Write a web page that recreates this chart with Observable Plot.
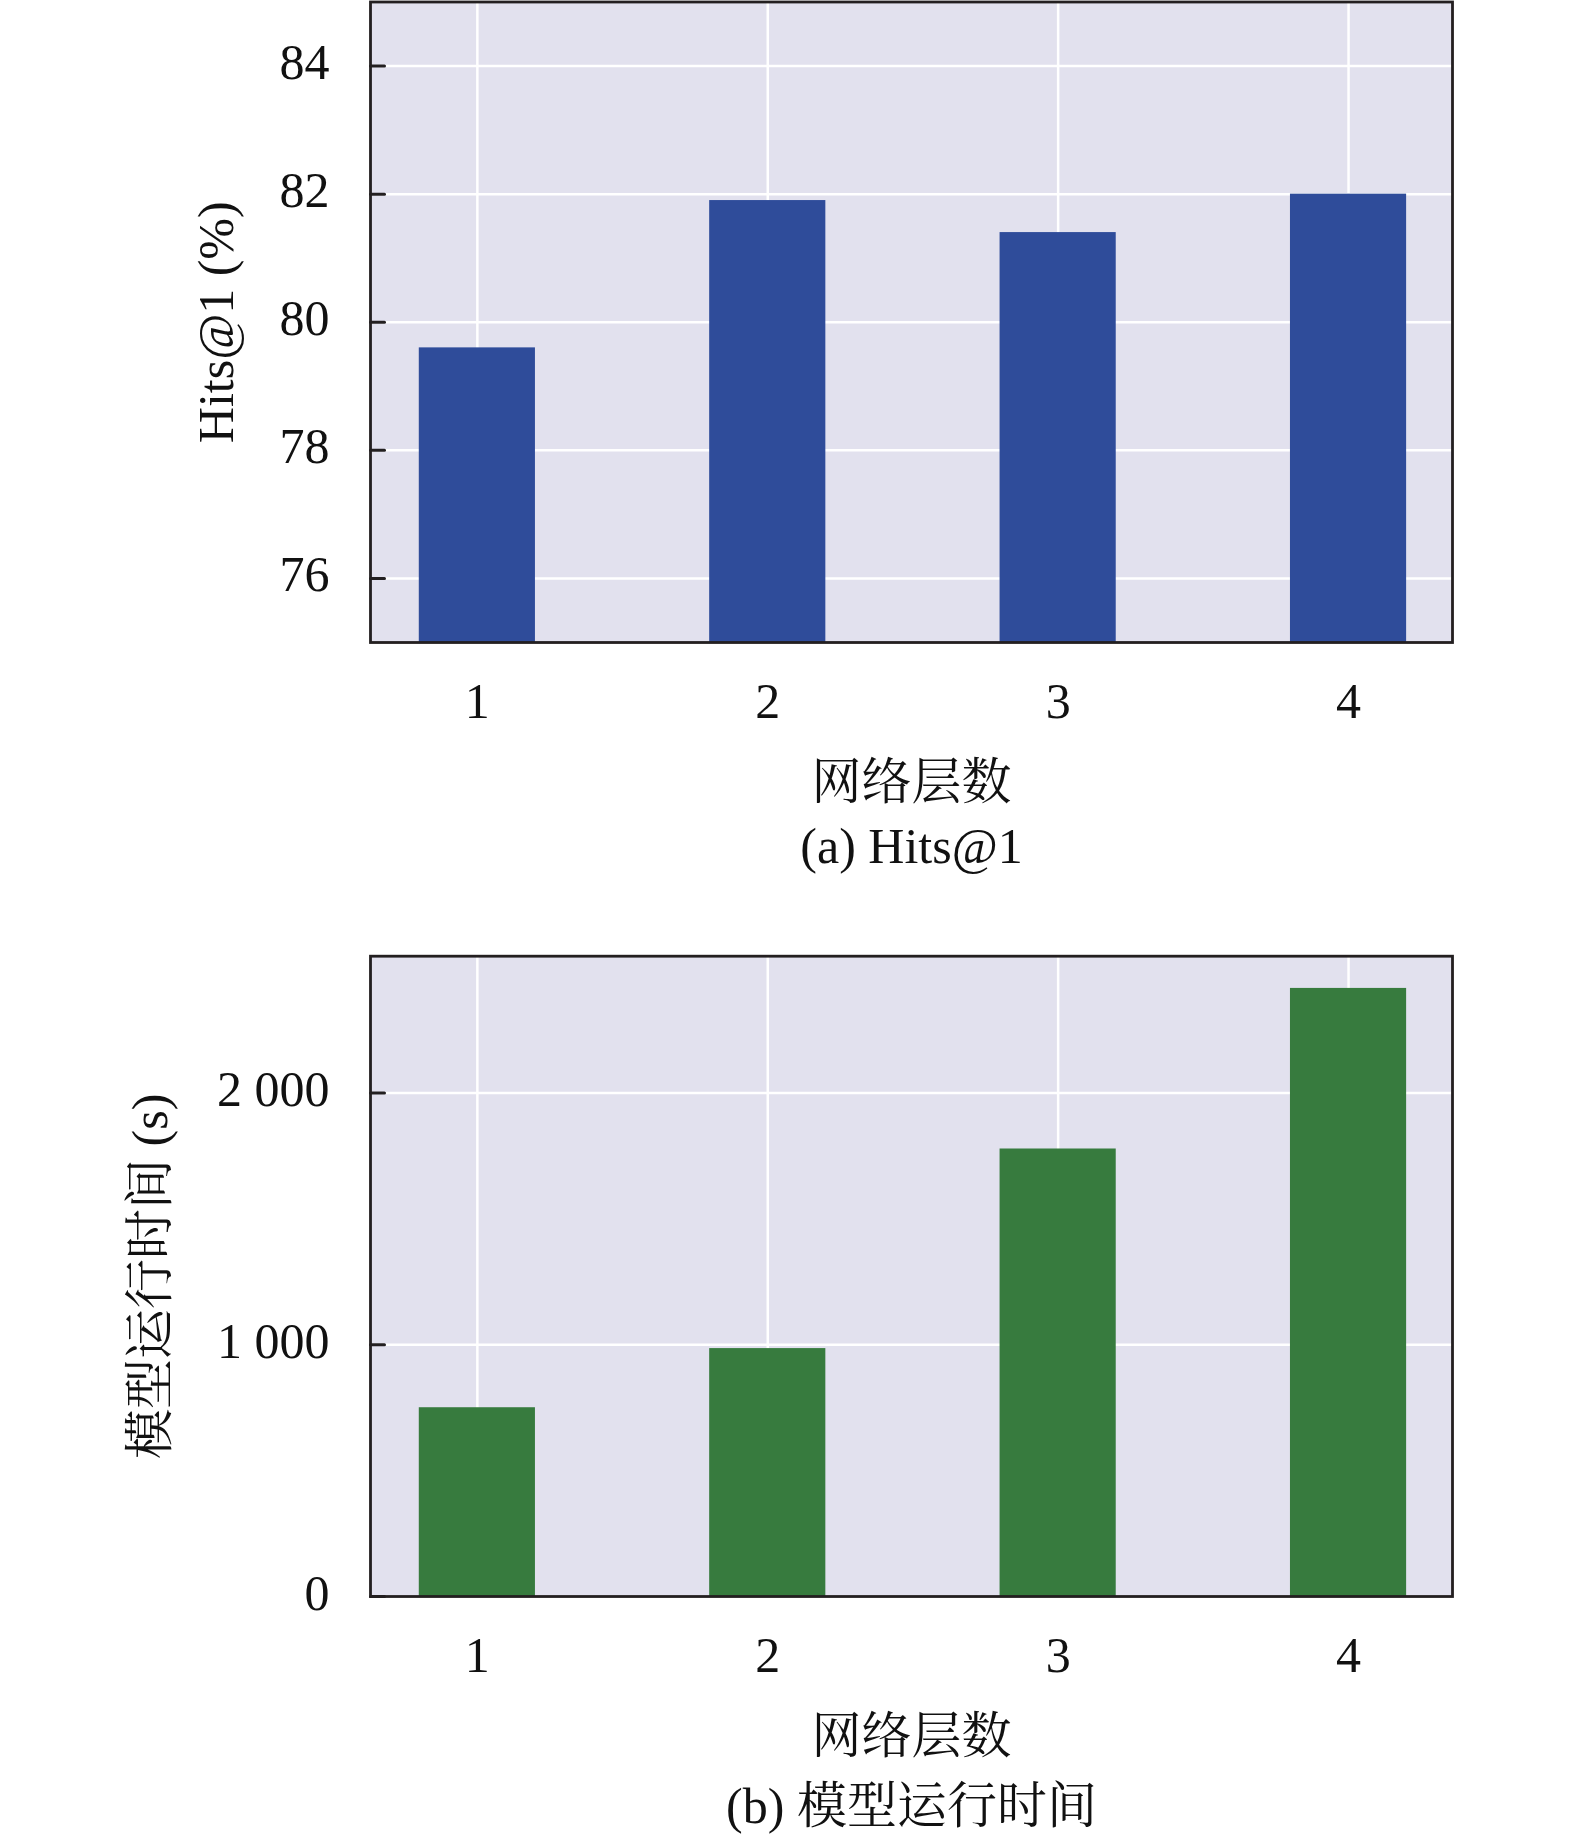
<!DOCTYPE html>
<html>
<head>
<meta charset="utf-8">
<script src="https://cdn.jsdelivr.net/npm/d3@7"></script>
<script src="https://cdn.jsdelivr.net/npm/@observablehq/plot@0.6"></script>
<style>
  html, body { margin: 0; padding: 0; background: #fff; }
  #chart svg { display: block; }
</style>
</head>
<body>
<div id="chart"></div>
<script>
// ---- data ----
const layers = [1, 2, 3, 4];
const hitsAt1 = [79.6, 81.9, 81.4, 82.0];
const runTime = [750, 985, 1778, 2416];
const hitsTicks = [76, 78, 80, 82, 84];
const timeTicks = [0, 1000, 2000];
const xLabel = "网络层数";
const yLabelA = "Hits@1 (%)";
const yLabelB = "模型运行时间 (s)";
const captionA = "(a) Hits@1";
const captionB = "(b) 模型运行时间";

const FONT = "'Liberation Serif', 'Times New Roman', 'Noto Serif CJK SC', 'Noto Sans CJK SC', serif";
const BG = "#e2e1ee";
const FRAME = "#231f20";
const fmtSpace = d => d3.format(",")(d).replace(/,/g, " ");
const tickShape = {draw(context, l) { context.moveTo(0, 0); context.lineTo(0, -l); }};

function panel({values, color, yDomain, yTicks, yFmt, yLabel, yLabelDx, caption, captionDy, height, marginTop, marginBottom}) {
  const data = layers.map((l, i) => ({layer: l, value: values[i]}));
  return Plot.plot({
    width: 1575,
    height,
    marginLeft: 370,
    marginRight: 123,
    marginTop,
    marginBottom,
    style: {fontFamily: FONT, fontSize: "50px", background: "#fff", color: "#111", overflow: "visible"},
    x: {type: "linear", domain: [0.632, 4.358], axis: null},
    y: {type: "linear", domain: yDomain, axis: null},
    marks: [
      Plot.frame({fill: BG, stroke: null}),
      Plot.ruleX(layers, {x: d => d, stroke: "#fff", strokeWidth: 2.5}),
      Plot.ruleY(yTicks, {y: d => d, stroke: "#fff", strokeWidth: 2.5}),
      Plot.rectY(data, {x1: d => d.layer - 0.2, x2: d => d.layer + 0.2, y1: yDomain[0], y2: "value", fill: color}),
      Plot.vector(yTicks, {y: d => d, frameAnchor: "left", rotate: 90, length: 14, anchor: "start", shape: tickShape, stroke: FRAME, strokeWidth: 3}),
      Plot.frame({stroke: FRAME, strokeWidth: 2.8, fill: null}),
      Plot.text(yTicks, {y: d => d, text: d => yFmt(d), frameAnchor: "left", dx: -41, dy: -3, textAnchor: "end", lineAnchor: "middle", fontSize: 50}),
      Plot.text(layers, {x: d => d, text: d => String(d), frameAnchor: "bottom", dy: 59.5, lineAnchor: "middle", fontSize: 50}),
      Plot.text([yLabel], {text: d => d, frameAnchor: "left", dx: yLabelDx, rotate: -90, textAnchor: "middle", lineAnchor: "middle", fontSize: 50}),
      Plot.text([xLabel], {text: d => d, frameAnchor: "bottom", dy: 140, lineAnchor: "middle", fontSize: 50}),
      Plot.text([caption], {text: d => d, frameAnchor: "bottom", dy: captionDy, lineAnchor: "middle", fontSize: 50})
    ]
  });
}

const root = document.getElementById("chart");
root.appendChild(panel({
  values: hitsAt1, color: "#2f4c9a", yDomain: [75, 85], yTicks: hitsTicks, yFmt: d => String(d),
  yLabel: yLabelA, yLabelDx: -153.5, caption: captionA, captionDy: 204,
  height: 900, marginTop: 1.5, marginBottom: 258
}));
root.appendChild(panel({
  values: runTime, color: "#377b3e", yDomain: [0, 2544], yTicks: timeTicks, yFmt: fmtSpace,
  yLabel: yLabelB, yLabelDx: -220, caption: captionB, captionDy: 210,
  height: 939, marginTop: 55.7, marginBottom: 243
}));
</script>
</body>
</html>
